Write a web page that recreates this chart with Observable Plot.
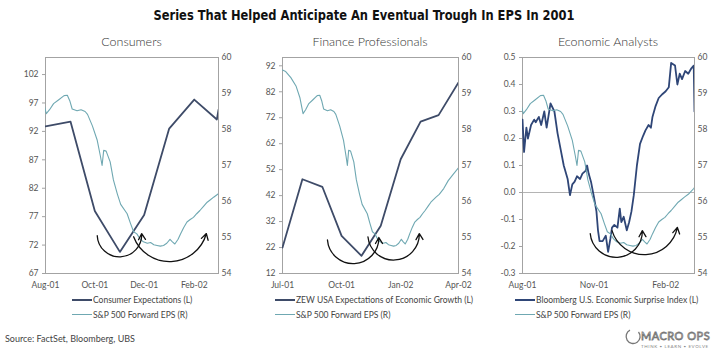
<!DOCTYPE html>
<html><head><meta charset="utf-8">
<script src="https://cdn.jsdelivr.net/npm/d3@7"></script>
<script src="https://cdn.jsdelivr.net/npm/@observablehq/plot@0.6"></script>
<style>
body{margin:0;background:#fff;}
#wrap{position:relative;width:728px;height:353px;overflow:hidden;font-family:Lato,"Liberation Sans",sans-serif;}
#wrap svg.p{position:absolute;left:0;top:0;}
.t{position:absolute;white-space:nowrap;line-height:1;}
.sw{position:absolute;height:0;width:20px;}
</style></head><body><div id="wrap"></div>
<script>
// ---------- data ----------
const consumerDates  = ["2001-08-01","2001-09-01","2001-10-01","2001-11-01","2001-12-01","2002-01-01","2002-02-01","2002-03-01","2002-03-03"];
const consumerValues = [92.9, 93.7, 78.0, 70.8, 77.3, 92.5, 97.6, 94.1, 95.8];

const zewDates  = ["2001-07-01","2001-08-01","2001-09-01","2001-10-01","2001-11-01","2001-12-01","2002-01-01","2002-02-01","2002-03-01","2002-04-01"];
const zewValues = [22.0, 48.3, 45.4, 26.5, 18.8, 30.4, 56.0, 70.5, 73.0, 85.6];

const surpriseDates = ["2001-08-01","2001-08-03","2001-08-06","2001-08-08","2001-08-12","2001-08-16","2001-08-18","2001-08-22","2001-08-25","2001-08-29",
  "2001-09-01","2001-09-06","2001-09-11","2001-09-15","2001-09-19","2001-09-23","2001-09-28","2001-10-01","2001-10-04","2001-10-07",
  "2001-10-10","2001-10-14","2001-10-17","2001-10-21","2001-10-23","2001-10-25","2001-10-28","2001-11-01","2001-11-04","2001-11-06",
  "2001-11-08","2001-11-12","2001-11-14","2001-11-16","2001-11-19","2001-11-22","2001-11-24","2001-11-27","2001-12-01","2001-12-04",
  "2001-12-06","2001-12-09","2001-12-13","2001-12-16","2001-12-19","2001-12-22","2001-12-26","2001-12-30","2002-01-03","2002-01-06",
  "2002-01-10","2002-01-13","2002-01-15","2002-01-19","2002-01-23","2002-01-28","2002-02-01","2002-02-05","2002-02-08","2002-02-13",
  "2002-02-16","2002-02-19","2002-02-22","2002-02-26","2002-03-02","2002-03-06","2002-03-09","2002-03-10"];
const surpriseValues = [0.27,0.15,0.24,0.20,0.25,0.27,0.26,0.28,0.25,0.30,
  0.24,0.33,0.30,0.22,0.16,0.10,0.05,-0.01,0.03,0.04,
  0.06,0.05,0.07,0.08,0.10,0.07,0.04,-0.02,-0.07,-0.14,
  -0.18,-0.18,-0.17,-0.16,-0.22,-0.17,-0.13,-0.12,-0.13,-0.06,
  -0.11,-0.09,-0.14,-0.11,-0.07,-0.01,0.10,0.18,0.21,0.23,
  0.25,0.24,0.28,0.32,0.35,0.365,0.375,0.39,0.48,0.47,
  0.40,0.44,0.42,0.45,0.44,0.46,0.47,0.30];

const epsDates = ["2001-07-01","2001-07-06","2001-07-14","2001-07-22","2001-07-28","2001-08-02","2001-08-06","2001-08-11","2001-08-17","2001-08-24",
  "2001-08-28","2001-08-31","2001-09-03","2001-09-09","2001-09-14","2001-09-19","2001-09-22","2001-09-28","2001-10-04","2001-10-08",
  "2001-10-10","2001-10-12","2001-10-15","2001-10-20","2001-10-24","2001-10-29","2001-11-02","2001-11-10","2001-11-14","2001-11-18",
  "2001-11-22","2001-11-26","2001-11-30","2001-12-05","2001-12-09","2001-12-13","2001-12-17","2001-12-21","2001-12-25","2001-12-29",
  "2002-01-02","2002-01-05","2002-01-08","2002-01-12","2002-01-15","2002-01-19","2002-01-23","2002-01-27","2002-01-31","2002-02-04",
  "2002-02-08","2002-02-13","2002-02-17","2002-02-21","2002-02-25","2002-03-02","2002-03-09","2002-03-16","2002-03-24","2002-04-01"];
const epsValues = [59.65,59.61,59.44,59.21,58.89,58.44,58.55,58.72,58.82,58.94,
  58.95,58.80,58.57,58.52,58.55,58.50,58.42,58.10,57.70,57.25,
  57.00,57.42,57.40,57.10,56.60,56.20,55.92,55.66,55.40,55.16,
  55.10,54.96,54.88,54.84,54.86,54.80,54.78,54.76,54.78,54.84,
  54.95,54.88,54.82,54.95,55.10,55.28,55.43,55.50,55.56,55.66,
  55.75,55.88,55.98,56.05,56.12,56.20,56.36,56.58,56.76,56.94];

const panelTitles = ["Consumers","Finance Professionals","Economic Analysts"];
const leftLabels = ["Consumer Expectations (L)","ZEW USA Expectations of Economic Growth (L)","Bloomberg U.S. Economic Surprise Index (L)"];
const rightLabel = "S&P 500 Forward EPS (R)";
const leftTicks = [[67,72,77,82,87,92,97,102],[12,22,32,42,52,62,72,82,92],[-0.3,-0.2,-0.1,0.0,0.1,0.2,0.3,0.4,0.5]];
const rightTicks = [54,55,56,57,58,59,60];
const xTicks = [["2001-08-01","2001-10-01","2001-12-01","2002-02-01"],["2001-07-01","2001-10-01","2002-01-01","2002-04-01"],["2001-08-01","2001-11-01","2002-02-01"]];
const xDomains = [["2001-08-01","2002-03-03"],["2001-07-01","2002-04-01"],["2001-08-01","2002-03-10"]];
const leftDomains = [[67,105],[12,95.2],[-0.3,0.5]];
const rightDomain = [54,60];
// annotation arrows (date, EPS value, bend)
const arrowSets = [
  [{x1:"2001-10-04",y1:55.05,x2:"2001-11-28",y2:55.11,bend:-90},{x1:"2001-11-18",y1:55.02,x2:"2002-02-16",y2:55.11,bend:-72}],
  [{x1:"2001-09-09",y1:54.93,x2:"2001-11-28",y2:55.00,bend:-88},{x1:"2001-11-11",y1:55.02,x2:"2002-01-30",y2:55.11,bend:-88}],
  [{x1:"2001-10-27",y1:55.11,x2:"2002-01-02",y2:55.19,bend:-88},{x1:"2001-11-24",y1:55.19,x2:"2002-02-16",y2:55.28,bend:-76}]
];

// ---------- layout ----------
const W = 728, H = 300;
const frames = [{l:45,r:218,t:57,b:273},{l:282,r:458,t:57,b:273},{l:522,r:694,t:57,b:273}];
const darkColors = ["#3e4b68","#3e4b68","#2f4677"];
const teal = "#6fa8b2";
const font = "Lato, 'Liberation Sans', sans-serif";

const rows = (ds, vs) => ds.map((d,i)=>({date:new Date(d), value:vs[i]}));
const leftData = [rows(consumerDates,consumerValues), rows(zewDates,zewValues), rows(surpriseDates,surpriseValues)];
const eps = rows(epsDates, epsValues);
const fmt = d3.utcFormat("%b-%y");
const wrap = document.getElementById("wrap");

function style(){return {fontFamily:font,fontSize:"8.5px",color:"#555",background:"transparent",overflow:"visible"};}

frames.forEach((f,i)=>{
  const m = {width:W,height:H,marginLeft:f.l,marginRight:W-f.r,marginTop:f.t,marginBottom:H-f.b};
  const xd = {type:"utc",domain:xDomains[i].map(d=>new Date(d))};
  const left = Plot.plot({...m, style:style(),
    x:xd, y:{domain:leftDomains[i]},
    marks:[
      i===2 ? Plot.ruleY([0],{stroke:"#b4b4b4",strokeWidth:1}) : null,
      Plot.frame({stroke:"#a3a3a3"}),
      Plot.axisY({anchor:"left",label:null,ticks:leftTicks[i],tickSize:3,tickPadding:4,stroke:"#a3a3a3",
        tickFormat:i===2?(d=>d.toFixed(1)):(d=>String(d))}),
      Plot.axisX({anchor:"bottom",label:null,ticks:xTicks[i].map(d=>new Date(d)),tickSize:0,tickPadding:8,tickFormat:fmt}),
      Plot.line(leftData[i],{x:"date",y:"value",stroke:darkColors[i],strokeWidth:1.8,clip:true})
    ]});
  left.classList.add("p"); wrap.appendChild(left);
  const arrows = arrowSets[i].map(a=>Plot.arrow([{x1:new Date(a.x1),y1:a.y1,x2:new Date(a.x2),y2:a.y2}],
        {x1:"x1",y1:"y1",x2:"x2",y2:"y2",bend:a.bend,stroke:"#111",strokeWidth:1.3,headLength:8}));
  const right = Plot.plot({...m, style:style(),
    x:{...xd, axis:null}, y:{domain:rightDomain},
    marks:[
      Plot.axisY({anchor:"right",label:null,ticks:rightTicks,tickSize:0,tickPadding:3,tickFormat:d=>String(d)}),
      Plot.line(eps,{x:"date",y:"value",stroke:teal,strokeWidth:1.1,clip:true}),
      ...arrows
    ]});
  right.classList.add("p"); wrap.appendChild(right);
});

// ---------- text ----------
function txt(s,x,y,css,anchor){
  const d=document.createElement("div"); d.className="t"; d.textContent=s;
  Object.assign(d.style,css); d.style.left=x+"px"; d.style.top=y+"px";
  d.style.transform = anchor==="middle" ? "translate(-50%,-50%)" + (css.sx?` scaleX(${css.sx})`:"") : "translate(0,-50%)";
  wrap.appendChild(d); return d;
}
txt("Series That Helped Anticipate An Eventual Trough In EPS In 2001",364,15,{fontFamily:"'Liberation Sans Narrow','DejaVu Sans Condensed',sans-serif",fontWeight:"bold",fontSize:"14.5px",color:"#111",sx:0.88},"middle");
frames.forEach((f,i)=>{
  txt(panelTitles[i],(f.l+f.r)/2,42,{fontSize:"12.5px",color:"#333",fontWeight:"300"},"middle");
});
const legX = [72,275,515];
legX.forEach((x,i)=>{
  [[leftLabels[i],darkColors[i],2,300],[rightLabel,teal,1.5,315]].forEach(([lab,c,w,y])=>{
    const s=document.createElement("div"); s.className="sw";
    s.style.left=x+"px"; s.style.top=(y-w/2)+"px"; s.style.borderTop=w+"px solid "+c; wrap.appendChild(s);
    txt(lab,x+21,y,{fontSize:"8.5px",color:"#444"});
  });
});
txt("Source: FactSet, Bloomberg, UBS",5,338,{fontSize:"9px",color:"#444"});
// logo
const lg = document.createElementNS("http://www.w3.org/2000/svg","svg");
lg.setAttribute("width",110);lg.setAttribute("height",30);
lg.style.position="absolute";lg.style.left="618px";lg.style.top="323px";
lg.innerHTML='<path d="M20.5,9 A7,7 0 1 1 12,7.2" fill="none" stroke="#777" stroke-width="1.3"/>'+
 '<text x="23" y="17" font-family="Lato,sans-serif" font-size="11" fill="#fff" stroke="#777" stroke-width="0.8" letter-spacing="0.5">MACRO OPS</text>'+
 '<text x="23" y="24.5" font-family="Lato,sans-serif" font-size="4.5" fill="#888" letter-spacing="0.6">THINK • LEARN • EVOLVE</text>';
wrap.appendChild(lg);
</script></body></html>
